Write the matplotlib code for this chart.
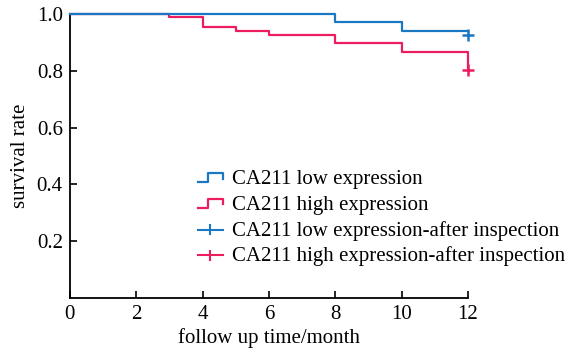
import matplotlib.pyplot as plt
from matplotlib.lines import Line2D
from matplotlib.legend_handler import HandlerLine2D

# Kaplan-Meier steps
low_time = [0, 8, 10, 12]
low_surv = [1.0, 0.972, 0.94, 0.94]
high_time = [0, 3, 4, 5, 6, 8, 10, 12]
high_surv = [1.0, 0.988, 0.955, 0.939, 0.925, 0.897, 0.866, 0.804]
low_cens_time = [12]
low_cens_surv = [0.925]
high_cens_time = [12]
high_cens_surv = [0.804]

labels = ["CA211 low expression", "CA211 high expression",
          "CA211 low expression-after inspection",
          "CA211 high expression-after inspection"]

blue = '#1a78c2'
red = '#ec1c5f'

plt.rcParams['font.family'] = ['Liberation Serif', 'DejaVu Serif']


class HandlerStep(HandlerLine2D):
    def create_artists(self, legend, orig_handle, xdescent, ydescent,
                       width, height, fontsize, trans):
        x0, x1 = -xdescent, -xdescent + width
        xm = x0 + width * 0.4
        y0 = -ydescent + height * 0.15
        y1 = -ydescent + height * 0.75
        line = Line2D([x0, xm, xm, x1, x1], [y0, y0, y1, y1, y0 + height * 0.25],
                      color=orig_handle.get_color(), lw=orig_handle.get_linewidth())
        line.set_transform(trans)
        return [line]


class HandlerCross(HandlerLine2D):
    def create_artists(self, legend, orig_handle, xdescent, ydescent,
                       width, height, fontsize, trans):
        x0, x1 = -xdescent, -xdescent + width
        xm = (x0 + x1) / 2
        yc = -ydescent + height * 0.4
        c = orig_handle.get_color()
        hl = Line2D([x0, x1], [yc, yc], color=c, lw=1.5)
        vl = Line2D([xm, xm], [yc - height * 0.3, yc + height * 0.3], color=c, lw=1.5)
        hl.set_transform(trans)
        vl.set_transform(trans)
        return [hl, vl]


fig = plt.figure(figsize=(5.77, 3.51), dpi=100)
ax = fig.add_axes([0.121, 0.151, 0.690, 0.809])

h1, = ax.step(low_time, low_surv, where='post', color=blue, lw=1.6, clip_on=False, zorder=3)
h2, = ax.step(high_time, high_surv, where='post', color=red, lw=1.6, clip_on=False)
h3, = ax.plot(low_cens_time, low_cens_surv, '+', color=blue, ms=9, mew=1.8, clip_on=False)
h4, = ax.plot(high_cens_time, high_cens_surv, '+', color=red, ms=9, mew=1.8, clip_on=False)

ax.set_xlim(0, 12)
ax.set_ylim(0, 1.0)
ax.set_xticks([0, 2, 4, 6, 8, 10, 12])
ax.set_yticks([0.2, 0.4, 0.6, 0.8, 1.0])
ax.set_yticklabels(['0.2', '0.4', '0.6', '0.8', '1.0'])
ax.tick_params(direction='in', length=5, width=1.2, labelsize=15, pad=5)
for s in ['top', 'right']:
    ax.spines[s].set_visible(False)
for s in ['left', 'bottom']:
    ax.spines[s].set_linewidth(1.3)

ax.set_xlabel('follow up time/month', fontsize=15, labelpad=3)
ax.set_ylabel('survival rate', fontsize=15, labelpad=5)

ax.legend([h1, h2, h3, h4], labels, frameon=False, fontsize=15,
          loc='upper left', bbox_to_anchor=(0.328, 0.54), bbox_transform=fig.transFigure,
          handlelength=1.2, handletextpad=0.45, labelspacing=0.28, borderaxespad=0,
          handler_map={h1: HandlerStep(), h2: HandlerStep(),
                       h3: HandlerCross(), h4: HandlerCross()})

fig.savefig('out.png', dpi=100)
